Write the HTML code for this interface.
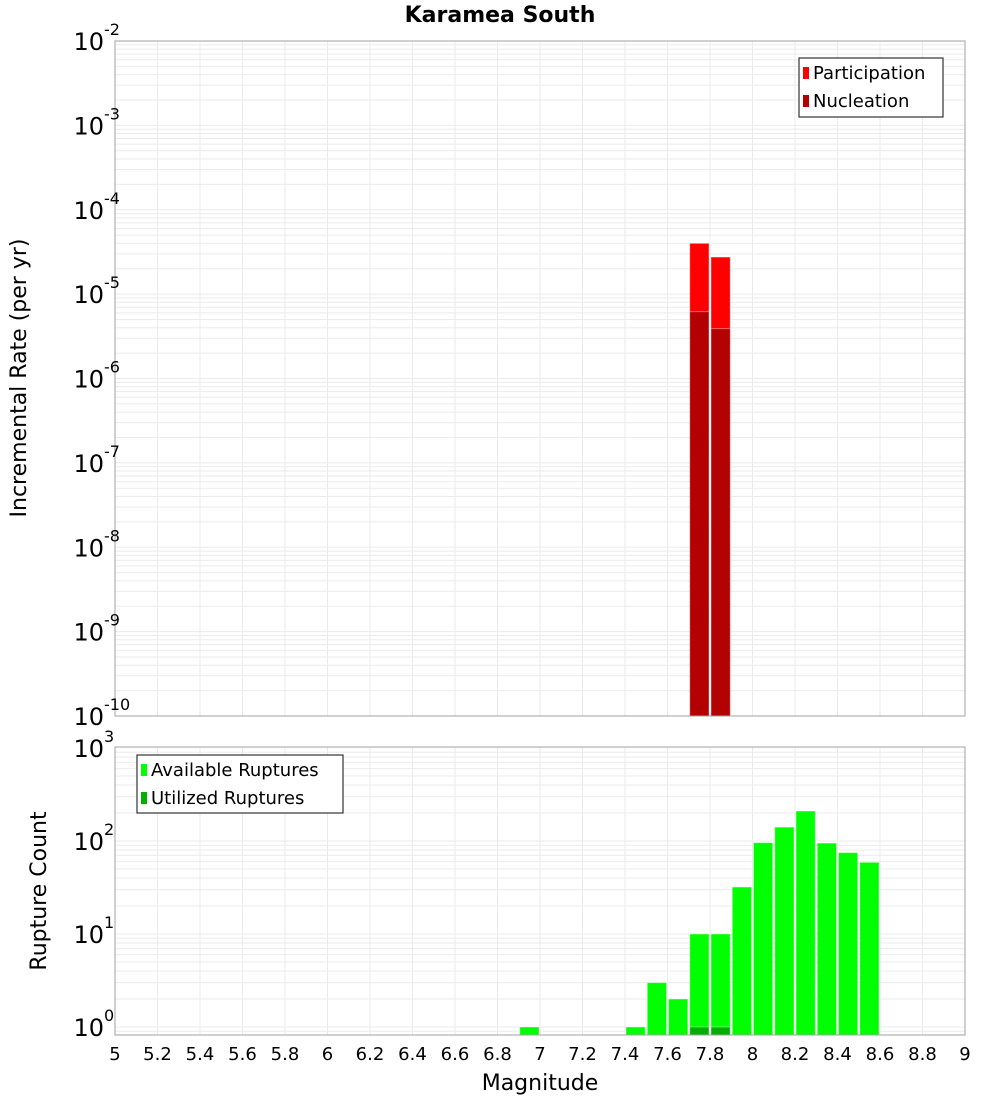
<!DOCTYPE html>
<html><head><meta charset="utf-8"><style>
body{margin:0;background:#fff;font-family:"DejaVu Sans","Liberation Sans",sans-serif;}
svg text{font-family:"DejaVu Sans","Liberation Sans",sans-serif;}
</style></head><body>
<svg id="c" width="1000" height="1100" xmlns="http://www.w3.org/2000/svg"></svg>
<script>
const binCenters = [7.75, 7.85];
const participation = [4.0e-5, 2.75e-5];
const nucleation = [6.2e-6, 3.9e-6];
const countBins = [6.95, 7.45, 7.55, 7.65, 7.75, 7.85, 7.95, 8.05, 8.15, 8.25, 8.35, 8.45, 8.55];
const available = [1, 1, 3, 2, 10, 10, 32, 96, 141, 210, 95, 75, 59];
const utilizedBins = [7.75, 7.85];
const utilized = [1, 1];
const xTicks = ["5","5.2","5.4","5.6","5.8","6","6.2","6.4","6.6","6.8","7","7.2","7.4","7.6","7.8","8","8.2","8.4","8.6","8.8","9"];
const topExps = [-2,-3,-4,-5,-6,-7,-8,-9,-10];
const botExps = [3,2,1,0];

const NS="http://www.w3.org/2000/svg";
const svg=document.getElementById('c');
function mk(tag,attrs,parent){const e=document.createElementNS(NS,tag);for(const k in attrs)e.setAttribute(k,attrs[k]);(parent||svg).appendChild(e);return e;}
const L=115,R=965;
const xs=m=>L+(m-5)/4*(R-L);
const T0=41,T1=716;
const ysTop=v=>T0+(-2-Math.log10(v))*(T1-T0)/8;
const B0=747,B1=1035;
const ysBot=v=>1027-93*Math.log10(v);

function grid(y0,y1,yfn,emin,emax){
  for(let e=emin;e<emax;e++)for(let k=1;k<10;k++){const y=yfn(k*Math.pow(10,e));if(y<y0-0.5||y>y1+0.5)continue;
    const l=mk('line',{x1:L,x2:R,y1:y,y2:y,stroke:'#ebebeb','stroke-width':1});
    
    }
  for(let i=0;i<xTicks.length;i++){const x=xs(+xTicks[i]);
    const l=mk('line',{x1:x,x2:x,y1:y0,y2:y1,stroke:'#ebebeb','stroke-width':1});
    
    }
}
grid(T0,T1,ysTop,-10,-2);
grid(B0,B1,ysBot,-1,3);

function bar(c,v,yfn,base,fill,name){
  const x0=xs(c-0.05)+1,x1=xs(c+0.05)-1,y=yfn(v);
  const r=mk('rect',{x:x0,y:y,width:x1-x0,height:base-y,fill:fill,stroke:'#fff','stroke-opacity':0.4,'stroke-width':1});
  
  
}
for(let i=0;i<binCenters.length;i++)bar(binCenters[i],participation[i],ysTop,T1,'#ff0000','participation-bar');
for(let i=0;i<binCenters.length;i++)bar(binCenters[i],nucleation[i],ysTop,T1,'#b30000','nucleation-bar');
for(let i=0;i<countBins.length;i++)bar(countBins[i],available[i],ysBot,B1,'#00ff00','available-bar');
for(let i=0;i<utilizedBins.length;i++)bar(utilizedBins[i],utilized[i],ysBot,B1,'#00b000','utilized-bar');

const f1=mk('rect',{x:L,y:T0,width:R-L,height:T1-T0,fill:'none',stroke:'#a0a0a0'});

const f2=mk('rect',{x:L,y:B0,width:R-L,height:B1-B0,fill:'none',stroke:'#a0a0a0'});


function ylab(e,y,name){
  const t=mk('text',{x:104,y:y+9,'font-size':24,'text-anchor':'end',fill:'#000'});
  
  t.textContent='10';
  const s=mk('text',{x:104,y:y-6,'font-size':16,fill:'#000'});
  
  s.textContent=String(e);
}
topExps.forEach(e=>ylab(e,ysTop(Math.pow(10,e)),'top-y-tick'));
botExps.forEach(e=>ylab(e,ysBot(Math.pow(10,e)),'bottom-y-tick'));

xTicks.forEach(t=>{const e=mk('text',{x:xs(+t),y:1060,'font-size':18,'text-anchor':'middle',fill:'#000'});
  e.textContent=t;});

function txt(s,attrs,name){const e=mk('text',attrs);e.textContent=s;return e;}
txt('Karamea South',{x:500,y:22,'font-size':22,'font-weight':'bold','text-anchor':'middle'},'chart-title');
txt('Magnitude',{x:540,y:1090,'font-size':22,'text-anchor':'middle'},'x-axis-title');
txt('Incremental Rate (per yr)',{x:0,y:0,'font-size':22,'text-anchor':'middle',transform:'translate(26,378) rotate(-90)'},'top-y-axis-title');
txt('Rupture Count',{x:0,y:0,'font-size':22,'text-anchor':'middle',transform:'translate(46,891) rotate(-90)'},'bottom-y-axis-title');

function legend(x,y,w,h,items,name){
  const g=mk('g',{});
  mk('rect',{x:x,y:y,width:w,height:h,fill:'#fff',stroke:'#333','stroke-width':1.2},g);
  items.forEach((it,i)=>{
    mk('rect',{x:x+4,y:y+9+i*28,width:6,height:12,fill:it[1]},g);
    const t=mk('text',{x:x+14,y:y+21+i*28,'font-size':18},g);
    
    t.textContent=it[0];
  });
}
legend(799,58,144,59,[['Participation','#ff0000'],['Nucleation','#b30000']],'top-legend');
legend(137,755,206,58,[['Available Ruptures','#00ff00'],['Utilized Ruptures','#00b000']],'bottom-legend');
</script>
</body></html>
